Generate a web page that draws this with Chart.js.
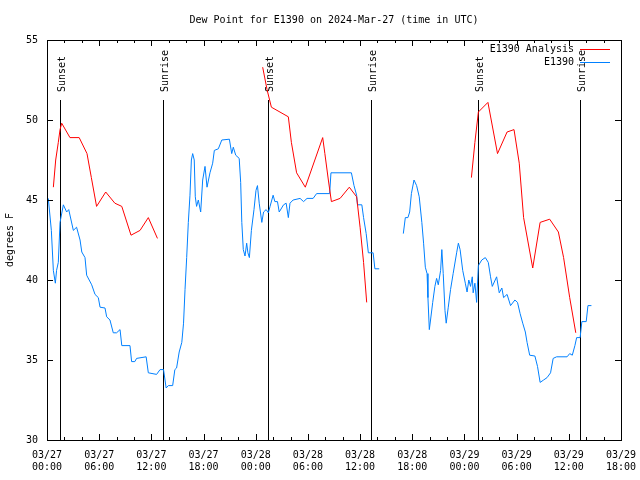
<!DOCTYPE html>
<html>
<head>
<meta charset="utf-8">
<script src="https://cdn.jsdelivr.net/npm/chart.js@4.4.1/dist/chart.umd.min.js"></script>
<style>
  html, body { margin: 0; padding: 0; background: #fff; }
</style>
</head>
<body>
<canvas id="dew-chart" width="640" height="480"></canvas>
<script>
// hours since 03/27 00:00 UTC, null breaks the line
const obsHours = [0.15, 0.5, 0.73, 0.96, 1.1, 1.3, 1.5, 1.88, 2.26, 2.5, 3.03, 3.4, 3.8, 4.0, 4.37, 4.56, 5.14, 5.52, 5.9, 6.1,
  6.67, 6.86, 7.24, 7.62, 8.0, 8.4, 8.6, 9.54, 9.73, 10.1, 10.3, 11.4, 11.65, 12.6, 13.0, 13.4, 13.7, 13.95, 14.45, 14.7,
  14.9, 15.2, 15.5, 15.7, 15.87, 16.06, 16.25, 16.44, 16.6, 16.75, 16.93, 17.05, 17.2, 17.4, 17.67, 17.9, 18.17, 18.4, 18.74, 19.05,
  19.24, 19.7, 20.1, 20.97, 21.24, 21.42, 21.7, 22.1, 22.27, 22.4, 22.57, 22.77, 22.96, 23.1, 23.27, 23.5, 23.8, 24.03, 24.2, 24.4,
  24.7, 24.9, 25.2, 25.45, 25.65, 26.0, 26.2, 26.5, 26.7, 27.2, 27.5, 27.75, 27.94, 28.3, 29.1, 29.5, 29.9, 30.6, 31.0, 32.5,
  32.65, 35.0, 35.3, 35.6, 35.7, 36.2, 36.4, 36.7, 36.95, 37.5, 37.7, 38.2, 39.5,
  40.97, 41.2, 41.5, 41.7, 41.9, 42.2, 42.5, 42.8, 43.1, 43.3, 43.5, 43.7, 43.8, 43.96, 44.1, 44.35, 44.6, 44.8, 44.99, 45.26,
  45.4, 45.56, 45.76, 45.9, 46.14, 46.4, 46.7, 47.1, 47.3, 47.5, 47.8, 48.1, 48.3, 48.5, 48.7, 48.9, 49.0, 49.2, 49.4, 49.6,
  49.99, 50.4, 50.74, 51.0, 51.2, 51.7, 52.0, 52.3, 52.5, 52.9, 53.3, 53.8, 54.1, 54.4, 54.7, 55.0, 55.2, 55.5, 56.1, 56.4,
  56.7, 57.1, 57.5, 57.9, 58.2, 58.6, 59.8, 60.1, 60.4, 60.7, 60.9, 61.3, 61.5, 62.0, 62.2, 62.6];
const obsDew = [45.1, 43.1, 40.6, 39.8, 40.6, 41.1, 43.6, 44.7, 44.25, 44.4, 43.1, 43.3, 42.5, 41.75, 41.4, 40.3, 39.7, 39.1, 38.9, 38.3,
  38.25, 37.7, 37.5, 36.7, 36.7, 36.9, 35.9, 35.9, 34.9, 34.9, 35.1, 35.2, 34.2, 34.1, 34.4, 34.4, 33.25, 33.4, 33.4, 34.4,
  34.5, 35.5, 36.1, 37.3, 39.4, 41.4, 43.6, 45.3, 47.5, 47.9, 47.5, 45.2, 44.6, 45.0, 44.25, 46.25, 47.1, 45.8, 46.7, 47.3,
  48.1, 48.2, 48.75, 48.8, 47.9, 48.3, 47.8, 47.6, 46.1, 43.6, 41.9, 41.5, 42.3, 41.7, 41.4, 43.1, 44.4, 45.6, 45.9, 44.8,
  43.6, 44.25, 44.4, 44.2, 44.6, 45.3, 44.9, 44.9, 44.25, 44.7, 44.8, 43.9, 44.8, 45.0, 45.1, 44.9, 45.1, 45.1, 45.4, 45.4,
  46.7, 46.7, 45.9, 45.3, 44.7, 44.7, 43.9, 42.9, 41.7, 41.7, 40.7, 40.7, null,
  42.9, 43.9, 43.9, 44.25, 45.4, 46.25, 45.9, 45.2, 43.6, 42.3, 40.8, 40.4, 38.9, 36.9, 37.5, 38.6, 39.6, 40.1, 39.7, 40.6,
  41.9, 40.4, 38.1, 37.3, 38.3, 39.4, 40.4, 41.7, 42.3, 41.9, 40.6, 39.8, 39.25, 40.0, 39.6, 40.2, 39.2, 39.8, 38.6, 40.9,
  41.25, 41.4, 41.1, 40.2, 39.6, 40.2, 39.2, 39.5, 38.9, 39.1, 38.4, 38.75, 38.6, 37.9, 37.3, 36.75, 36.1, 35.3, 35.25, 34.6,
  33.6, 33.75, 33.9, 34.2, 35.1, 35.2, 35.2, 35.4, 35.3, 35.9, 36.4, 36.4, 37.4, 37.4, 38.4, 38.4];

const anaHours = [0.73, 1.0, 1.3, 1.5, 1.69, 2.64, 3.7, 4.6, 5.1, 5.7, 6.75, 7.8, 8.6, 9.66, 10.7, 11.65, 12.7, 18,
  24.8, 25.3, 25.8, 27.75, 28.1, 28.7, 29.7, 31.7, 31.95, 32.35, 32.7, 33.7, 34.76, 35.6, 36.0, 36.4, 36.76, 42,
  48.8, 49.2, 49.6, 50.7, 51.8, 52.9, 53.7, 54.3, 54.8, 55.85, 56.7, 57.8, 58.8, 59.4, 60.1, 60.8];
const anaDew = [45.8, 47.5, 48.6, 49.4, 49.8, 48.9, 48.9, 47.9, 46.4, 44.6, 45.5, 44.8, 44.6, 42.8, 43.1, 43.9, 42.6, null,
  53.3, 51.9, 50.8, 50.2, 48.6, 46.7, 45.8, 48.9, 47.9, 46.25, 44.9, 45.1, 45.8, 45.2, 43.3, 41.1, 38.6, null,
  46.4, 48.6, 50.5, 51.1, 47.9, 49.25, 49.4, 47.3, 43.9, 40.75, 43.6, 43.8, 43.0, 41.4, 38.9, 36.7];

const sunHours = [1.5, 13.35, 25.4, 37.25, 49.55, 61.3];
const sunLabels = ["Sunset", "Sunrise", "Sunset", "Sunrise", "Sunset", "Sunrise"];
const sunLineTop = 51.25;

const xTickDates = ["03/27", "03/27", "03/27", "03/27", "03/28", "03/28", "03/28", "03/28", "03/29", "03/29", "03/29", "03/29"];
const xTickTimes = ["00:00", "06:00", "12:00", "18:00", "00:00", "06:00", "12:00", "18:00", "00:00", "06:00", "12:00", "18:00"];
const yTicks = [30, 35, 40, 45, 50, 55];

const FONT = "'DejaVu Sans Mono', 'Liberation Mono', monospace";

const toPoints = (xs, ys) => xs.map((x, i) => ({ x: x, y: ys[i] }));

// gnuplot style frame: inward ticks, border, sun markers, legend
const gnuplotBits = {
  id: "gnuplotBits",
  beforeDatasetsDraw(chart) {
    const { ctx, scales } = chart;
    const bottom = chart.chartArea.bottom;
    ctx.save();
    ctx.strokeStyle = "#000";
    ctx.lineWidth = 1;
    ctx.fillStyle = "#000";
    ctx.font = "10px " + FONT;
    sunHours.forEach((h, i) => {
      const x = Math.round(scales.x.getPixelForValue(h)) + 0.5;
      const top = scales.y.getPixelForValue(sunLineTop);
      ctx.beginPath();
      ctx.moveTo(x, bottom);
      ctx.lineTo(x, top);
      ctx.stroke();
      ctx.save();
      ctx.translate(x + 4, top - 8);
      ctx.rotate(-Math.PI / 2);
      ctx.textAlign = "left";
      ctx.fillText(sunLabels[i], 0, 0);
      ctx.restore();
    });
    ctx.restore();
  },
  afterDatasetsDraw(chart) {
    const { ctx, scales } = chart;
    const { left, right, top, bottom } = chart.chartArea;
    ctx.save();
    ctx.strokeStyle = "#000";
    ctx.lineWidth = 1;
    ctx.beginPath();
    scales.x.ticks.forEach((t) => {
      const x = Math.round(scales.x.getPixelForValue(t.value)) + 0.5;
      const len = t.value % 6 === 0 ? 6 : 3;
      ctx.moveTo(x, bottom);
      ctx.lineTo(x, bottom - len);
      ctx.moveTo(x, top);
      ctx.lineTo(x, top + len);
    });
    yTicks.forEach((v) => {
      const y = Math.round(scales.y.getPixelForValue(v)) + 0.5;
      ctx.moveTo(left, y);
      ctx.lineTo(left + 6, y);
      ctx.moveTo(right, y);
      ctx.lineTo(right - 6, y);
    });
    ctx.stroke();
    ctx.strokeRect(Math.round(left) + 0.5, Math.round(top) + 0.5, Math.round(right - left), Math.round(bottom - top));

    // legend
    ctx.font = "10px " + FONT;
    ctx.textAlign = "right";
    ctx.textBaseline = "middle";
    chart.data.datasets.forEach((ds, i) => {
      const y = top + 9.5 + i * 13;
      ctx.fillStyle = "#000";
      ctx.fillText(ds.label, right - 47, y);
      ctx.strokeStyle = ds.borderColor;
      ctx.beginPath();
      ctx.moveTo(right - 41, y);
      ctx.lineTo(right - 11, y);
      ctx.stroke();
    });
    ctx.restore();
  },
};

const chart = new Chart(document.getElementById("dew-chart"), {
  type: "line",
  data: {
    datasets: [
      {
        label: "E1390 Analysis",
        data: toPoints(anaHours, anaDew),
        borderColor: "#ff0000",
        borderWidth: 1,
        pointRadius: 0,
        spanGaps: false,
      },
      {
        label: "E1390",
        data: toPoints(obsHours, obsDew),
        borderColor: "#0080ff",
        borderWidth: 1,
        pointRadius: 0,
        spanGaps: false,
      },
    ],
  },
  options: {
    responsive: false,
    animation: false,
    devicePixelRatio: 1,
    layout: { padding: { left: 0, right: 19, top: 0, bottom: 0 } },
    plugins: {
      legend: { display: false },
      tooltip: { enabled: false },
      title: {
        display: true,
        fullSize: false,
        text: "Dew Point for E1390 on 2024-Mar-27 (time in UTC)",
        color: "#000",
        font: { family: FONT, size: 10, weight: "normal" },
        padding: { top: 14, bottom: 14 },
      },
    },
    scales: {
      x: {
        type: "linear",
        min: 0,
        max: 66,
        grid: { display: false, drawTicks: false },
        border: { display: false },
        afterFit: (scale) => {
          scale.height = 40;
          scale.paddingLeft = 0;
          scale.paddingRight = 0;
        },
        ticks: {
          stepSize: 2,
          autoSkip: false,
          maxRotation: 0,
          padding: 9,
          color: "#000",
          font: { family: FONT, size: 10 },
          callback: (v) => (v % 6 === 0 ? [xTickDates[v / 6], xTickTimes[v / 6]] : ""),
        },
      },
      y: {
        min: 30,
        max: 55,
        grid: { display: false, drawTicks: false },
        border: { display: false },
        afterFit: (scale) => { scale.width = 47; },
        ticks: {
          stepSize: 5,
          padding: 9,
          color: "#000",
          font: { family: FONT, size: 10 },
        },
        title: {
          display: true,
          text: "degrees F",
          color: "#000",
          font: { family: FONT, size: 10 },
          padding: { top: 4, bottom: 0 },
        },
      },
    },
  },
  plugins: [gnuplotBits],
});
</script>
</body>
</html>
